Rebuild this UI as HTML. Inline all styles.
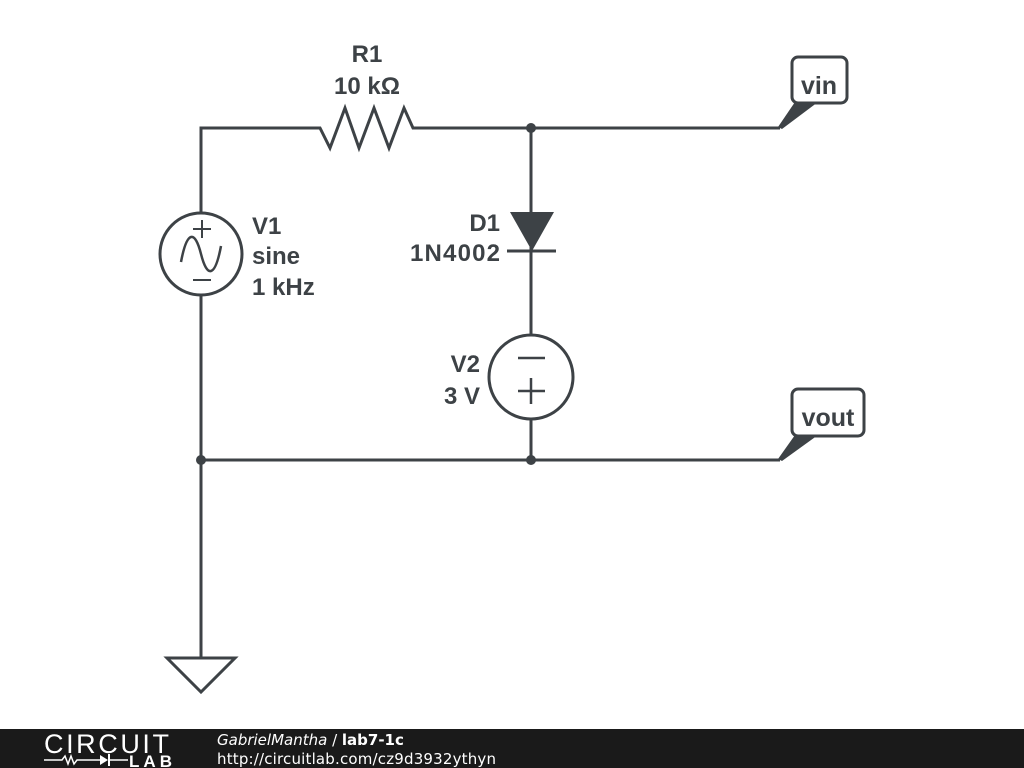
<!DOCTYPE html>
<html><head><style>
body{margin:0;width:1024px;height:768px;background:#fff;overflow:hidden;font-family:"Liberation Sans",sans-serif}
</style></head><body>
<svg width="1024" height="768" style="position:absolute;left:0;top:0">
<g stroke="#3d4246" stroke-width="3" fill="none" stroke-linejoin="miter">
<polyline points="201,212 201,128 320,128 330,148 345,108 359,148 374,108 389,148 404,108 413,128 780,128"/>
<line x1="531" y1="128" x2="531" y2="335"/>
<line x1="507" y1="251" x2="556" y2="251"/>
<circle cx="201" cy="254" r="41"/>
<line x1="201" y1="295" x2="201" y2="658"/>
<circle cx="531" cy="377" r="42"/>
<line x1="531" y1="419" x2="531" y2="460"/>
<line x1="201" y1="460" x2="780" y2="460"/>
<polygon points="167,658 235,658 201,692"/>
<path d="M181,262 C187,230 195,230 201,254 C207,278 215,278 221,246" stroke-width="2.5"/>
<line x1="193" y1="229" x2="211" y2="229" stroke-width="2"/><line x1="202" y1="220" x2="202" y2="238" stroke-width="2"/>
<line x1="193" y1="280" x2="211" y2="280" stroke-width="2"/>
<line x1="518" y1="358" x2="545" y2="358" stroke-width="2.5"/>
<line x1="518" y1="391" x2="545" y2="391" stroke-width="2.5"/><line x1="531" y1="378" x2="531" y2="404" stroke-width="2.5"/>
<rect x="792" y="57" width="55" height="46" rx="6"/>
<rect x="792" y="389" width="72" height="47" rx="6"/>
</g>
<polygon points="510,212 554,212 532,251" fill="#3d4246"/>
<circle cx="531" cy="128" r="5" fill="#3d4246"/>
<circle cx="531" cy="460" r="5" fill="#3d4246"/>
<circle cx="201" cy="460" r="5" fill="#3d4246"/>
<polygon points="795,102 818,102 782,129 778,127" fill="#3d4246"/>
<polygon points="795,435 818,435 782,461 778,459" fill="#3d4246"/>
<g fill="#3d4246" font-family="Liberation Sans,sans-serif" font-weight="bold" font-size="24">
<text x="367" y="62" text-anchor="middle">R1</text>
<text x="367" y="94" text-anchor="middle">10 kΩ</text>
<text x="252" y="234">V1</text>
<text x="252" y="264">sine</text>
<text x="252" y="295">1 kHz</text>
<text x="500" y="231" text-anchor="end">D1</text>
<text x="500" y="261" text-anchor="end" textLength="90">1N4002</text>
<text x="480" y="372" text-anchor="end">V2</text>
<text x="480" y="404" text-anchor="end">3 V</text>
<text x="819" y="94" text-anchor="middle" font-size="25">vin</text>
<text x="828" y="426" text-anchor="middle" font-size="25">vout</text>
</g>
<rect x="0" y="729" width="1024" height="39" fill="#1a1a1a"/>
<text x="44" y="753" fill="#fff" font-size="27" font-family="Liberation Sans,sans-serif" letter-spacing="3" textLength="128">CIRCUIT</text>
<polyline points="44,760 62,760 65,756 68,764 71,756 74,764 77,760 100,760" stroke="#fff" stroke-width="1.5" fill="none"/>
<polygon points="100,755 100,765 108,760" fill="#fff"/>
<line x1="109" y1="754" x2="109" y2="766" stroke="#fff" stroke-width="2"/>
<line x1="109" y1="760" x2="128" y2="760" stroke="#fff" stroke-width="1.5"/>
<text x="129" y="767" fill="#fff" font-size="17" font-weight="bold" font-family="Liberation Sans,sans-serif" textLength="43">LAB</text>
<text x="217" y="745" fill="#fff" font-size="15" font-family="DejaVu Sans,sans-serif"><tspan font-style="italic">GabrielMantha</tspan> / <tspan font-weight="bold">lab7-1c</tspan></text>
<text x="217" y="764" fill="#fff" font-size="15" font-family="DejaVu Sans,sans-serif" textLength="279">http://circuitlab.com/cz9d3932ythyn</text>
</svg>
</body></html>
